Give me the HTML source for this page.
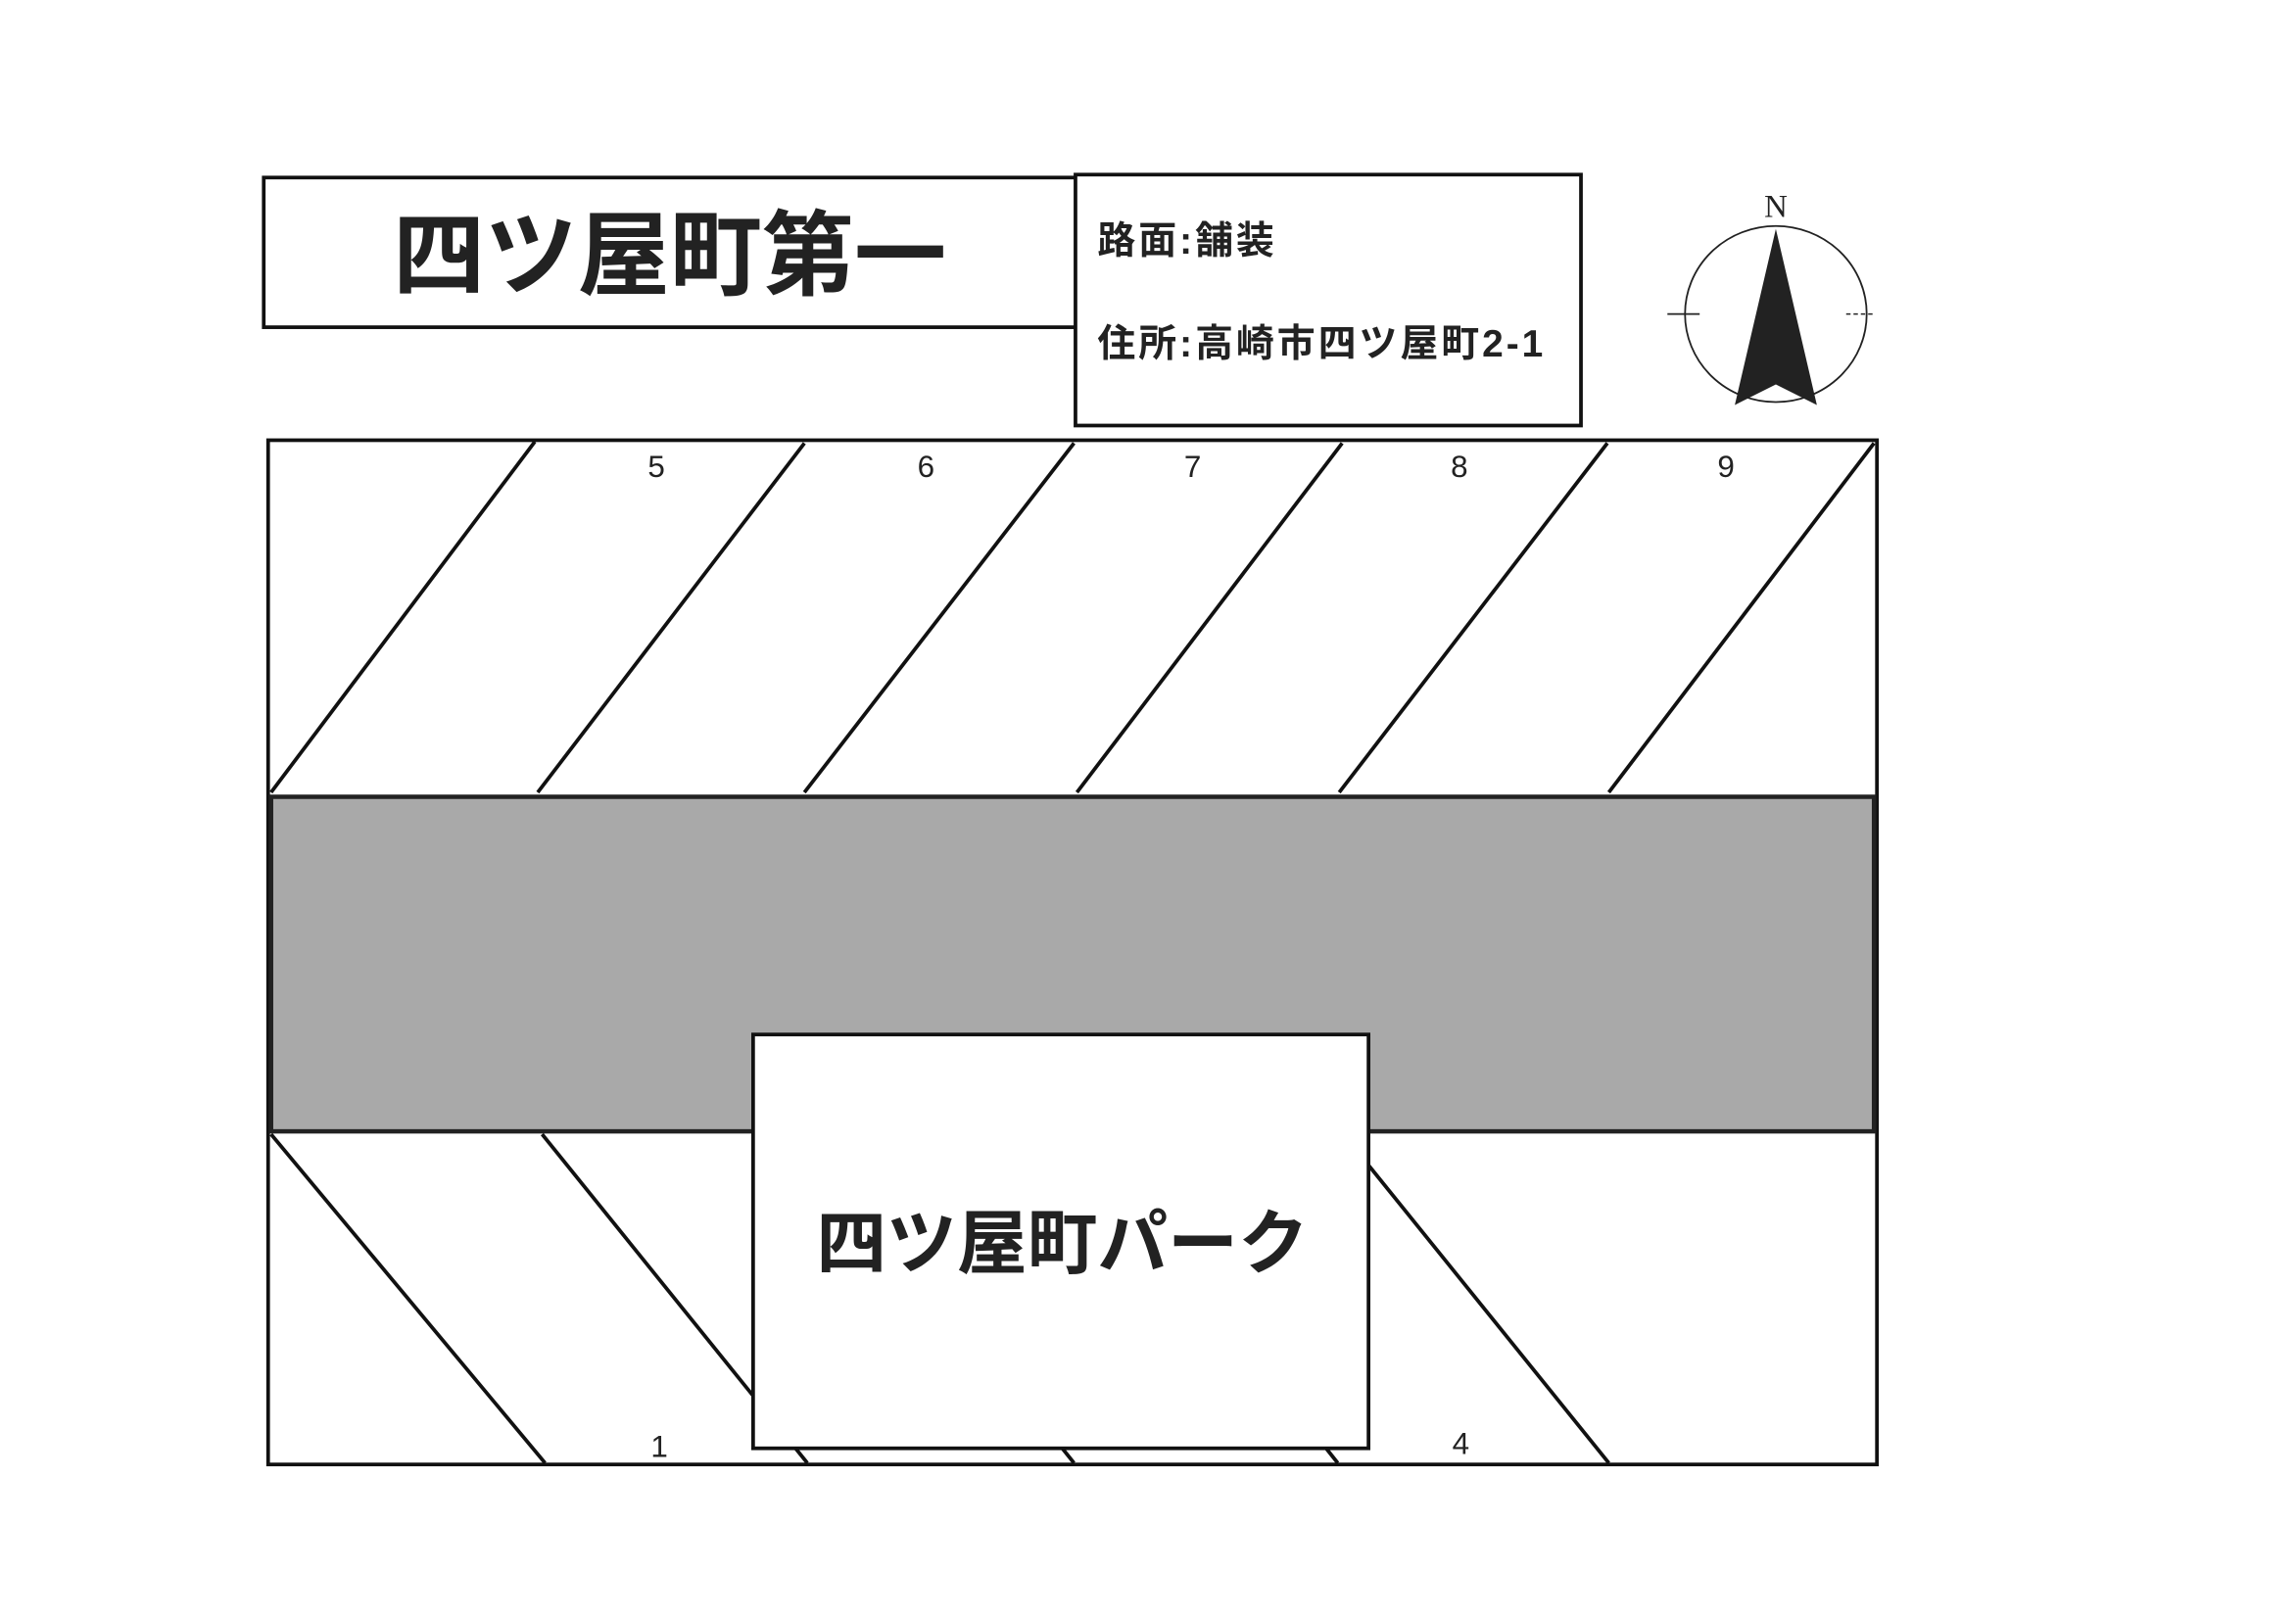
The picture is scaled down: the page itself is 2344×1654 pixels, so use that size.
<!DOCTYPE html>
<html><head><meta charset="utf-8"><style>html,body{margin:0;padding:0;background:#fff}svg{display:block}</style></head>
<body>
<svg width="2344" height="1654" viewBox="0 0 1567 1104" preserveAspectRatio="none" xmlns="http://www.w3.org/2000/svg" font-family="'Liberation Sans','Noto Sans CJK JP',sans-serif">
<g stroke="#111" stroke-width="2.5" fill="none">
<rect x="180" y="121" width="555" height="102" fill="#fff"/>
<rect x="734" y="119" width="345" height="171" fill="#fff"/>
<rect x="183" y="300" width="1098" height="698" fill="#fff"/>
<rect x="185" y="543" width="1094" height="228" fill="#a9a9a9" stroke="#222" stroke-width="3"/>
<line x1="185" y1="540" x2="365" y2="301"/>
<line x1="367" y1="540" x2="549" y2="302"/>
<line x1="549" y1="540" x2="733" y2="302"/>
<line x1="735" y1="540" x2="916" y2="302"/>
<line x1="914" y1="540" x2="1097" y2="302"/>
<line x1="1098" y1="540" x2="1279" y2="302"/>
<line x1="185" y1="773" x2="372" y2="997"/>
<line x1="370" y1="773" x2="551" y2="997"/>
<line x1="553" y1="773" x2="733" y2="997"/>
<line x1="735" y1="773" x2="913" y2="997"/>
<line x1="917" y1="773" x2="1098" y2="997"/>
<rect x="514" y="705" width="420" height="282" fill="#fff"/>
</g>
<text x="457" y="196" font-size="63" font-weight="bold" text-anchor="middle" fill="#222">四ツ屋町第一</text>
<text x="749" y="173" font-size="26" font-weight="bold" letter-spacing="2" fill="#222">路面:舗装</text>
<text x="749" y="243" font-size="26" font-weight="bold" letter-spacing="2" fill="#222">住所:高崎市四ツ屋町2-1</text>
<text x="725" y="864" font-size="48" font-weight="bold" text-anchor="middle" fill="#222">四ツ屋町パーク</text>
<g font-size="21" text-anchor="middle" fill="#222">
<text x="448" y="325">5</text><text x="632" y="325">6</text><text x="814" y="325">7</text><text x="996" y="325">8</text><text x="1178" y="325">9</text>
<text x="450" y="993">1</text><text x="997" y="991">4</text>
</g>
<g>
<ellipse cx="1212" cy="214" rx="62" ry="60" fill="none" stroke="#222" stroke-width="1.2"/>
<line x1="1138" y1="214" x2="1160" y2="214" stroke="#222" stroke-width="1.2"/>
<line x1="1260" y1="214" x2="1280" y2="214" stroke="#222" stroke-width="1" stroke-dasharray="3 2"/>
<polygon points="1212,156 1240,276 1212,262 1184,276" fill="#222"/>
<text x="1212" y="148" font-size="22" font-family="'Liberation Serif',serif" text-anchor="middle" fill="#222">N</text>
</g>
</svg>
</body></html>
